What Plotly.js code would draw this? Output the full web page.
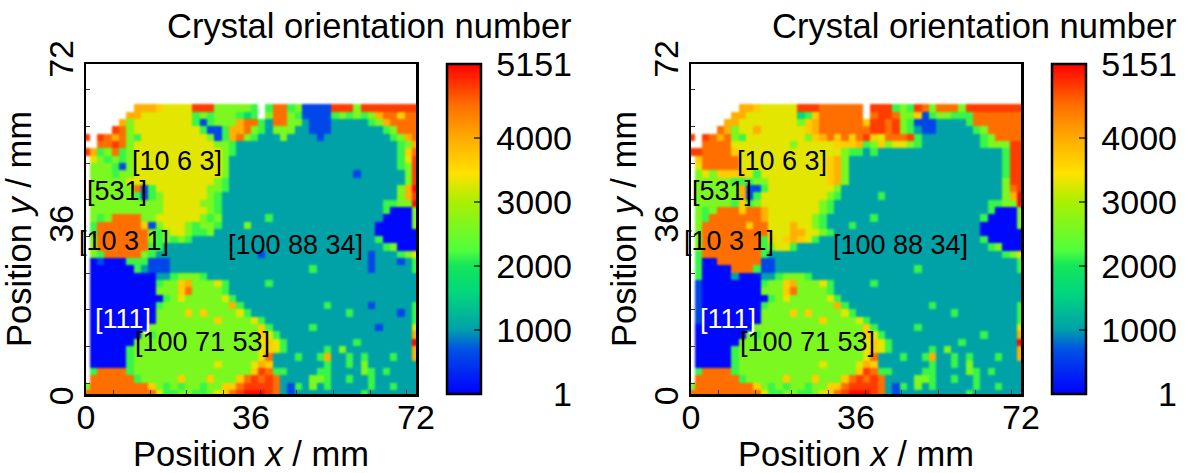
<!DOCTYPE html>
<html><head><meta charset="utf-8">
<script src="https://cdn.plot.ly/plotly-3.0.1.min.js"></script>
<style>html,body{margin:0;padding:0;background:#fff}#c{width:1189px;height:473px}
.heatmaplayer image{filter:blur(0.8px)}</style>
</head><body><div id="c"></div>
<script>
const blankRows = ["","","","","",""];
const leftRows = [
".......ooo Yyyyyrrrll lllG.GOOGl BBBBrrrlrr rrrrrr",
"......ooyy yyyyyGlGll lGgG.lOOlG BBBBGlGlGl oOOYOO",
".....olyyy yyyyyGBGll loOOGtOOll tBBBtttttG loOOOO",
"....rOlyyy yyyyyyGBBG ooOlGtlllt tBBBtttttt tGlOOO",
"r.rOoOlGyy yyyyyyylBG oOlGtttltt ttBttttttt ttGloO",
"..OOrOlyyy yyyyyyyyll Gttttttttt tttttttttt tttGlo",
"roGlOGlyyy yyyyyyyyyl Gttttttttt tttttttttt tttGYO",
".ylGlGlyyy yyyyyyyyyl tttttttttt tttttttttt tttGyr",
".lllGBlyyy yyyyyyyyyl tttttttttt tttttttttt tttGlr",
".lllGllyyy yyyyyyyyyl tttttttttt tttttttBtt ttttlr",
".lllllyyyy yyyyyyyylG tttttttttt tttttttttt ttttlr",
".llllllOBG yyyyyyyllG tttttttttt tttttttttt tttloR",
".llllllGBG lyyyyyylGt tttttttttt tttttttttt tttlor",
".lllllllll lyyyyyllGt tttttttttt tttttttttt tGGllR",
".lllllllll lyyyyyylGt tttttttttt tttttttttt tGbbbl",
".lGlOOOOll yyyyyylGlt tttttGtttt tttttttttt tbbbbl",
".GOOOOOOYB lyyylGllGt ttlttttttt tttttttttt bbbbbl",
".GOOOOOOOl GlyylGGltt tttttttttt tttttttttt bbbbbb",
".lOOOOOOOl GlGlGttttt tttttttttt tttttttttt Gbbbbb",
".lOOOOOOOG Gttttttttt tttttttttt tttttttttt tGlbbb",
".lGOOOOOlG tttttttttt ttttBttttt tttttttttB tttGly",
".bBbbbGGGB BBtttttttt tttttttttt tttttttttB tttBtG",
".bbbbbbGtB BBtttttttt tttttttttt tGtttttttB tttttG",
".bbbbbbbbb ttGlllGttt tttttttttt tttttttttt tttttt",
".bbbbbbbbb GllYolllyG tttttGtttt tttttttttt tttttt",
".bbbbbbbbb lllYOllllG tttttttttt tttttttttt tttttt",
".bbbbbbbbb bGlyllllly Gttttttttt tttttttttt tttttt",
".bbbbbbbbb Glllllllll oGtttttttt tttGtttttB tttttG",
".bbbbbbbbb llllYlYlll lyGttttttt ttttttGttt tttBtG",
".bbbbbbbbb llllllllYl lllyGttttt tttttttttt tttttG",
".bbbbbbbbl llllllllll llllYGtttt tGtttttttt Btttty",
".bbbbbbblG llllllllll llllYyGttt tttttttttt ttttto"
];
const rightRows = [
".......ooY yyyyyrrrOO OOOO.rrrGl GrOlOOOlrr rrrrrr",
"......ooyy yyyyygGYOO OOOO.OrrOl lYBGllGGGO OOOOOO",
".....ooyyy yyyyylYoOO OOOOYrrOrl GBBBttttGO OOOOOO",
"....Oolyyo yyyyyyYoOO OOOOOrrOrl GtBBtttttG lOOOOO",
"r.rOoOlGyy yyyyyylYoO YOYOrYyOOO rGtttttttt GlOOOO",
"..OOOOyyyy yyyylyyyyy YYYoGlYlyy lGtttttttt Glllrr",
"rrOOOOYyyy yyyyyyyyyy ylGGtGtttt tttttttttt tttGrr",
".YOOOOOyyy yyyyyyyyyY oltttttttt tttttttttt tttGrr",
".yOOOOOyyy yyyyyyyyyY oltttttttt tttttttttt tttGrr",
".lylYYYYyG yyyyyyyyyY oltttttttt tttttttttt tttGrr",
".lllllGGGl lyyyyyyyyY oltttttttt tttttttttt tttlrr",
".lllllloBB Gyyyyyyyyy lttttttttt tttttttttt tttlOr",
".lllllloBG yyyyyyyyyl GtttttGttt tttttttttt tttloR",
".lllllGYGl yyyyyyyylG tttttttttt tttttttttt tGGllR",
".lGlOOOYOO oyyyyyyylG tttttttttt tttttttttt tGbbbl",
".lGOOOOOOO oyyyyyylGt tttttGtttt tttttttttt Gbbbbl",
".lOOOOOOYO OyyyoyylGt ttGttttttt tttttttttt bbbbbl",
".lOOOOOOOO OyyyooyylG tttttttttt tttttttttt bbbbbb",
".lOOOOOOOO GYyYoYyGtt tttttttttt tttttttttt Gbbbbb",
".lOOOOOOOO GlyyGttttt tttttttttt tttttttttt tGlbbb",
".GOOOOOOOO Gttttttttt tttttttttt tttttttttt tttGly",
".GbbOOOOOO BBtttttttt tttttttttt tttttttttt tttttG",
".GbbbbOOOG BBtttttttt tttttttttt tGtttttttt tttttG",
".Gbbbbtbbb ttGlllGttt tttttttttt tttttttttt tttttt",
".Bbbbbbbbb GllYolllyG tttttGtttt tttttttttt tttttt",
".Bbbbbbbbb lllYOllllG tttttttttt tttttttttt tttttt",
".Bbbbbbbbb bGlyllllly Gttttttttt tttttttttt tttttt",
".Bbbbbbbbb Glllllllll oGtttttttt tttGtttttt tttttG",
".Bbbbbbbbb llllYlYlll lyGttttttt ttttttGttt tttttG",
".Bbbbbbbbb llllllllYl lllyGttttt tttttttttt tttttG",
".bbbbbbbbl llllllllll llllYGtttt tGtttttttt ttttty",
".bbbbbbblG llllllllll llllYyGttt tttttttttt Gtttto"
];
const sharedBottomRows = [
".bbbbbblll llllllllll llllyYyGtt tttttttGtt tttttR",
".bbbbbGlll llllllllll llllyYyGtt tttGtltttt ttttto",
".bbbbbGlll llllllllll llllyOtttG ttGottGtGt ttGtto",
".bbbbbGlll llllllllyl lllyoYtttt tttGttGtlt tttttt",
".GOOOOGlll llllllllll lllYrOGGtt ttGGttttlG tGtttt",
".OOOOOOGll lllYlllYll lYOrOrOttt tllGttGttG tttttt",
"lOOOOOOOOY lGlGllGllY YOrrrrOtBG tltGtttttG ttGttt",
"OOOOOOOOOO yGGllGGlyY OrRRRrOtBt ttttttttGt tttttt"
];
const orientationValue = {b:60,B:600,t:1030,g:1650,G:2150,l:2600,y:3300,Y:3650,o:3950,O:4500,r:4800,R:5100};
const positionsMm = [0,1.6,3.2,4.8,6.4,8,9.6,11.2,12.8,14.4,16,17.6,19.2,20.8,22.4,24,25.6,27.2,28.8,30.4,32,33.6,35.2,36.8,38.4,40,41.6,43.2,44.8,46.4,48,49.6,51.2,52.8,54.4,56,57.6,59.2,60.8,62.4,64,65.6,67.2,68.8,70.4,72];
const xMinorTicks = [6,14,22,30,38,46,54,62,70];
const yMinorTicks = [2.4,10.4,18.4,26.4,34.4,42.4,50.4,58.4,66.4];
const axisTickVals = [0,36,72];
const xTickText = ["0","36","72"];
const yTickText = ["0\u2009\u2009","36","72"];
const barTickVals = [1,1000,2000,3000,4000,5151];
const barTickText = ["\u2009\u2007\u2007\u20071","\u20091000","\u20092000","\u20093000","\u20094000","\u20095151"];
const grainLabels = ["[10 6 3]","[531]","[10 3 1]","[100 88 34]","[111]","[100 71 53]"];
const grainLabelX = [19.9,6.8,8.3,45.8,8.1,25.5];
const grainLabelY = [50.9,44.4,33.4,32.5,16.4,11.3];
const grainLabelColor = ["#000","#000","#000","#000","#fff","#000"];

const FONT = "Liberation Sans, Arial, sans-serif";
const W = 1189, H = 473;
const scale = [
 [0,"rgb(0,0,255)"],[0.133,"rgb(0,80,230)"],[0.196,"rgb(0,160,170)"],[0.305,"rgb(0,215,125)"],
 [0.39,"rgb(20,230,90)"],[0.436,"rgb(80,255,60)"],[0.583,"rgb(170,240,0)"],[0.669,"rgb(255,225,0)"],
 [0.778,"rgb(255,170,0)"],[0.876,"rgb(255,110,0)"],[1,"rgb(255,0,0)"]];

function toZ(rows){
  const z = rows.map(r=>{
    const s = r.replace(/ /g,"");
    const a = [];
    for(let j=0;j<46;j++){ const c=s[j]; a.push(c&&orientationValue[c]!==undefined?orientationValue[c]:null); }
    return a;
  });
  return z.reverse();
}
function heat(rows,xa,ya,barLeft){
  return {type:"heatmap",x:positionsMm,y:positionsMm,z:toZ(blankRows.concat(rows,sharedBottomRows)),
    xaxis:xa,yaxis:ya,zmin:1,zmax:5151,zsmooth:false,colorscale:scale,hoverongaps:false,
    colorbar:{x:barLeft/W,xanchor:"left",y:1-394/H,yanchor:"bottom",lenmode:"pixels",len:330,
      thicknessmode:"pixels",thickness:34,xpad:0,ypad:0,outlinewidth:2.5,outlinecolor:"#000",
      tickmode:"array",tickvals:barTickVals,ticktext:barTickText,ticks:"inside",ticklen:8,tickwidth:1.5,
      tickcolor:"rgba(0,0,0,0.6)",tickfont:{family:FONT,size:34,color:"#000"},ticklabelposition:"outside"}};
}
function xAxis(l,r,anchor){
  return {domain:[l/W,r/W],range:[0,72],anchor:anchor,tickmode:"array",tickvals:axisTickVals,ticktext:xTickText,ticks:"",ticklabelstandoff:-8,
    tickfont:{family:FONT,size:34,color:"#000"},showgrid:false,zeroline:false,showline:true,linecolor:"#000",linewidth:2.5,mirror:true,
    minor:{tickmode:"array",tickvals:xMinorTicks,ticks:"inside",ticklen:4,tickwidth:1,tickcolor:"#333",showgrid:false},
    title:{text:"Position <i>x</i> / mm",font:{family:FONT,size:34.5,color:"#000"},standoff:6}};
}
function yAxis(anchor){
  return {domain:[1-394/H,1-64/H],range:[0,72],anchor:anchor,tickmode:"array",tickvals:axisTickVals,ticktext:yTickText,ticks:"",tickangle:-90,ticklabelstandoff:-3,
    tickfont:{family:FONT,size:34,color:"#000"},showgrid:false,zeroline:false,showline:true,linecolor:"#000",linewidth:2.5,mirror:true,
    minor:{tickmode:"array",tickvals:yMinorTicks,ticks:"inside",ticklen:4,tickwidth:1,tickcolor:"#333",showgrid:false},
    title:{text:"Position <i>y</i> / mm",font:{family:FONT,size:34.5,color:"#000"},standoff:0}};
}
function labels(xa,ya){
  return grainLabels.map((t,k)=>({text:t,x:grainLabelX[k],y:grainLabelY[k],xref:xa,yref:ya,showarrow:false,
    font:{family:FONT,size:27,color:grainLabelColor[k]},xanchor:"center",yanchor:"middle"}));
}
const titleAnn = (right)=>({text:"Crystal orientation number",xref:"paper",yref:"paper",x:right/W,y:1-47/H,xanchor:"right",yanchor:"bottom",
  showarrow:false,font:{family:FONT,size:34.5,color:"#000"}});
const layout = {width:W,height:H,autosize:false,margin:{l:0,r:0,t:0,b:0},paper_bgcolor:"#fff",plot_bgcolor:"#fff",showlegend:false,
  xaxis:xAxis(86,416,"y"),yaxis:yAxis("x"),xaxis2:xAxis(691,1021,"y2"),yaxis2:yAxis("x2"),
  annotations:[...labels("x","y"),...labels("x2","y2"),titleAnn(574),titleAnn(1179)]};
Plotly.newPlot("c",[heat(leftRows,"x","y",447),heat(rightRows,"x2","y2",1052)],layout,{staticPlot:true,displayModeBar:false});
</script></body></html>
